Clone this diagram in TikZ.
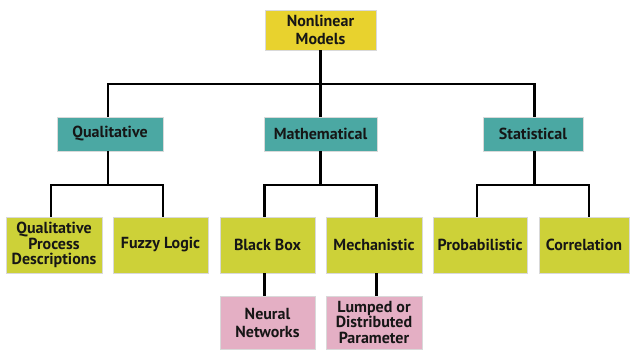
\documentclass[tikz,border=0pt]{standalone}
\usepackage{fontspec}
\setmainfont{PT Sans}
\usetikzlibrary{calc}
\definecolor{rootcol}{HTML}{E8D22E}
\definecolor{tealcol}{HTML}{4BA8A3}
\definecolor{olivecol}{HTML}{CDD138}
\definecolor{pinkcol}{HTML}{E4AFC4}
\definecolor{txtcol}{HTML}{161616}
\tikzset{
  box/.style={rectangle, draw=white!85!black, line width=0.6pt, inner sep=0pt, align=center,
    text=txtcol, font=\fontsize{16}{18}\selectfont\bfseries},
  rootbox/.style={box, fill=rootcol, minimum width=111pt, minimum height=40pt},
  catbox/.style={box, fill=tealcol, minimum height=34pt},
  leafbox/.style={box, fill=olivecol, minimum height=56pt},
  subbox/.style={box, fill=pinkcol, minimum height=53pt},
  tight/.style={font=\fontsize{16}{15.5}\selectfont\bfseries},
  conn/.style={draw=black, line width=2.4pt}
}
\begin{document}
\begin{tikzpicture}[x=1pt,y=-1pt]
\useasboundingbox (0,0) rectangle (630,349);
\node[rootbox] (root) at (320.5,30) {Nonlinear\\Models};
\node[catbox, minimum width=106pt] (qual) at (110,134) {Qualitative};
\node[catbox, minimum width=113pt] (math) at (320.5,134) {Mathematical};
\node[catbox, minimum width=100pt] (stat) at (533,134) {Statistical};
\node[leafbox, tight, minimum width=96pt] (qpd) at (54,245) {Qualitative\\Process\\Descriptions};
\node[leafbox, minimum width=95pt] (fuzzy) at (160.5,245) {Fuzzy Logic};
\node[leafbox, minimum width=95pt] (black) at (267.5,245) {Black Box};
\node[leafbox, minimum width=96pt] (mech) at (374,245) {Mechanistic};
\node[leafbox, minimum width=94pt] (prob) at (480,245) {Probabilistic};
\node[leafbox, minimum width=90pt] (corr) at (584,245) {Correlation};
\node[subbox, minimum width=95pt] (neural) at (267.5,322.5) {Neural\\Networks};
\node[subbox, tight, minimum width=96pt] (lumped) at (374,322.5) {Lumped or\\Distributed\\Parameter};
\coordinate (b1) at (0,84);
\coordinate (b2) at (0,185);
% level 1
\draw[conn] (root.south) -- (math.north);
\draw[conn] ([xshift=-2pt]qual.north) |- (root.south |- b1) -| ([xshift=1.5pt]stat.north);
% level 2
\draw[conn] ([xshift=-2pt]qual.south) -- ([xshift=-2pt]qual.south |- b2);
\draw[conn] ([xshift=-3pt]qpd.north) |- ([xshift=-2pt]qual.south |- b2) -| ([xshift=2.5pt]fuzzy.north);
\draw[conn] (math.south) -- (math.south |- b2);
\draw[conn] ([xshift=-3pt]black.north) |- (math.south |- b2) -| ([xshift=2.5pt]mech.north);
\draw[conn] ([xshift=1.5pt]stat.south) -- ([xshift=1.5pt]stat.south |- b2);
\draw[conn] ([xshift=-3pt]prob.north) |- ([xshift=1.5pt]stat.south |- b2) -| ([xshift=5pt]corr.north);
% level 3
\draw[conn] ([xshift=-3pt]black.south) -- ([xshift=-3pt]neural.north);
\draw[conn] ([xshift=2.5pt]mech.south) -- ([xshift=2.5pt]lumped.north);
\end{tikzpicture}
\end{document}
